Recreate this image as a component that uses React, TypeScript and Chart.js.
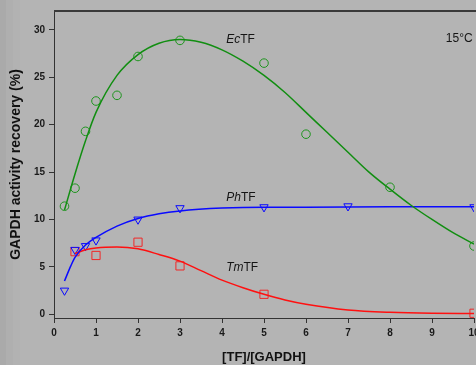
import React, { useEffect, useRef } from "react";
import { Chart, registerables } from "chart.js";

Chart.register(...registerables);

// ---- data ----
const xTicks = [0, 1, 2, 3, 4, 5, 6, 7, 8, 9, 10];
const yTicks = [0, 5, 10, 15, 20, 25, 30];

const ecX = [0.25, 0.5, 0.75, 1, 1.5, 2, 3, 5, 6, 8, 10];
const ecY = [11.4, 13.3, 19.3, 22.5, 23.1, 27.2, 28.9, 26.5, 19.0, 13.4, 7.2];
const phX = [0.25, 0.5, 0.75, 1, 2, 3, 5, 7, 10];
const phY = [2.5, 6.8, 7.2, 7.8, 10.0, 11.2, 11.3, 11.4, 11.3];
const tmX = [0.5, 1, 2, 3, 5, 10];
const tmY = [6.6, 6.2, 7.6, 5.1, 2.1, 0.1];

const ecFitX = [0.25, 0.5, 0.75, 1, 1.5, 2, 2.5, 3, 3.5, 4, 4.5, 5, 5.5, 6, 6.5, 7, 7.5, 8, 8.5, 9, 9.5, 10];
const ecFitY = [11.0, 14.8, 18.3, 21.3, 25.2, 27.4, 28.6, 29.0, 28.7, 27.9, 26.7, 25.2, 23.4, 21.3, 19.2, 17.1, 15.0, 13.2, 11.5, 10.0, 8.6, 7.4];
const phFitX = [0.25, 0.4, 0.5, 0.75, 1, 1.5, 2, 2.5, 3, 4, 5, 6, 8, 10];
const phFitY = [3.5, 5.1, 6.0, 7.3, 8.1, 9.3, 10.1, 10.6, 10.9, 11.2, 11.3, 11.3, 11.35, 11.35];
const tmFitX = [0.5, 0.75, 1, 1.5, 2, 2.5, 3, 3.5, 4, 4.5, 5, 5.5, 6, 7, 8, 9, 10];
const tmFitY = [6.4, 6.8, 7.0, 7.1, 6.9, 6.3, 5.6, 4.6, 3.6, 2.8, 2.1, 1.5, 1.05, 0.45, 0.2, 0.1, 0.08];

const seriesLabels = [
  { italic: "Ec", plain: "TF", x: 4.1, y: 29.0 },
  { italic: "Ph", plain: "TF", x: 4.1, y: 12.3 },
  { italic: "Tm", plain: "TF", x: 4.1, y: 4.9 },
];
const tempLabel = { text: "15°C", x: 9.33, y: 29.1 };

const xTitle = "[TF]/[GAPDH]";
const yTitle = "GAPDH activity recovery (%)";

const zip = (xs: number[], ys: number[]) => xs.map((x, i) => ({ x, y: ys[i] }));

const GREEN = "#118e11";
const BLUE = "#0a0aff";
const RED = "#ff1010";
const AXIS = "#333333";
const FONT = "'Liberation Sans', Arial, sans-serif";

const bgPlugin = {
  id: "bg",
  beforeDraw(chart: any) {
    const { ctx, width, height } = chart;
    ctx.save();
    ctx.fillStyle = "#b4b4b4";
    ctx.fillRect(0, 0, width, height);
    ctx.fillStyle = "#aaaaaa";
    ctx.fillRect(0, 0, 6, height);
    ctx.fillStyle = "#afafaf";
    ctx.fillRect(6, 0, 7, height);
    ctx.fillStyle = "#b2b2b2";
    ctx.fillRect(13, 0, 7, height);
    ctx.restore();
  },
  afterDraw(chart: any) {
    const { ctx, chartArea, width } = chart;
    ctx.save();
    ctx.fillStyle = "#3a3a3a";
    ctx.fillRect(chartArea.left, chartArea.top - 1, width - chartArea.left, 2);
    ctx.restore();
  },
};

const labelPlugin = {
  id: "labels",
  afterDatasetsDraw(chart: any) {
    const { ctx, scales } = chart;
    const xs = scales.x;
    const ys = scales.y;
    ctx.save();
    ctx.fillStyle = "#151515";
    ctx.textBaseline = "middle";
    ctx.textAlign = "left";
    for (const l of seriesLabels) {
      const px = xs.getPixelForValue(l.x);
      const py = ys.getPixelForValue(l.y);
      ctx.font = `italic 12px ${FONT}`;
      ctx.fillText(l.italic, px, py);
      const w = ctx.measureText(l.italic).width;
      ctx.font = `12px ${FONT}`;
      ctx.fillText(l.plain, px + w, py);
    }
    ctx.font = `12px ${FONT}`;
    ctx.fillText(tempLabel.text, xs.getPixelForValue(tempLabel.x), ys.getPixelForValue(tempLabel.y));
    ctx.restore();
  },
};

export default function App() {
  const ref = useRef<HTMLCanvasElement | null>(null);

  useEffect(() => {
    document.body.style.margin = "0";
    const canvas = ref.current;
    if (!canvas) return;

    const markerBase = {
      showLine: false,
      borderWidth: 1,
      backgroundColor: "rgba(0,0,0,0)",
    };
    const lineBase = {
      showLine: true,
      pointRadius: 0,
      borderWidth: 1.5,
      cubicInterpolationMode: "monotone" as const,
      fill: false,
    };

    const chart = new Chart(canvas, {
      type: "scatter",
      data: {
        datasets: [
          { ...lineBase, data: zip(ecFitX, ecFitY), borderColor: GREEN },
          { ...lineBase, data: zip(phFitX, phFitY), borderColor: BLUE },
          { ...lineBase, data: zip(tmFitX, tmFitY), borderColor: RED },
          { ...markerBase, data: zip(ecX, ecY), borderColor: "#1f951f", pointStyle: "circle", pointRadius: 4.3 },
          { ...markerBase, data: zip(phX, phY), borderColor: BLUE, pointStyle: "triangle", pointRadius: 4.8, rotation: 180 },
          { ...markerBase, data: zip(tmX, tmY), borderColor: "#f02828", pointStyle: "rect", pointRadius: 5.8 },
        ],
      },
      options: {
        responsive: false,
        animation: false,
        devicePixelRatio: 1,
        layout: { padding: { left: 0, top: 11, right: 26, bottom: 0 } },
        plugins: { legend: { display: false }, tooltip: { enabled: false }, title: { display: false } },
        scales: {
          x: {
            type: "linear",
            min: 0,
            max: 10,
            afterBuildTicks: (s: any) => {
              s.ticks = xTicks.map((v) => ({ value: v }));
            },
            afterFit: (s: any) => {
              s.height = 47;
            },
            grid: { drawOnChartArea: false, drawTicks: true, tickLength: 5, color: AXIS },
            border: { display: true, color: AXIS, width: 1 },
            ticks: { color: "#1a1a1a", font: { family: FONT, size: 10, weight: "bold" }, padding: 4, maxRotation: 0, autoSkip: false },
            title: { display: true, text: xTitle, color: "#111", font: { family: FONT, size: 13, weight: "bold" }, padding: { top: 0, bottom: 0 } },
          },
          y: {
            type: "linear",
            min: -0.4,
            max: 32,
            afterBuildTicks: (s: any) => {
              s.ticks = yTicks.map((v) => ({ value: v }));
            },
            afterFit: (s: any) => {
              s.width = 54;
            },
            grid: { drawOnChartArea: false, drawTicks: true, tickLength: 5, color: AXIS },
            border: { display: true, color: AXIS, width: 1 },
            ticks: { color: "#1a1a1a", font: { family: FONT, size: 10, weight: "bold" }, padding: 4 },
            title: { display: true, text: yTitle, color: "#111", font: { family: FONT, size: 14, weight: "bold" }, padding: { top: 8, bottom: 0 } },
          },
        },
      },
      plugins: [bgPlugin, labelPlugin],
    });

    return () => chart.destroy();
  }, []);

  return (
    <div style={{ width: 476, height: 365, overflow: "hidden", position: "relative" }}>
      <canvas ref={ref} width={500} height={365} style={{ display: "block" }} />
    </div>
  );
}
